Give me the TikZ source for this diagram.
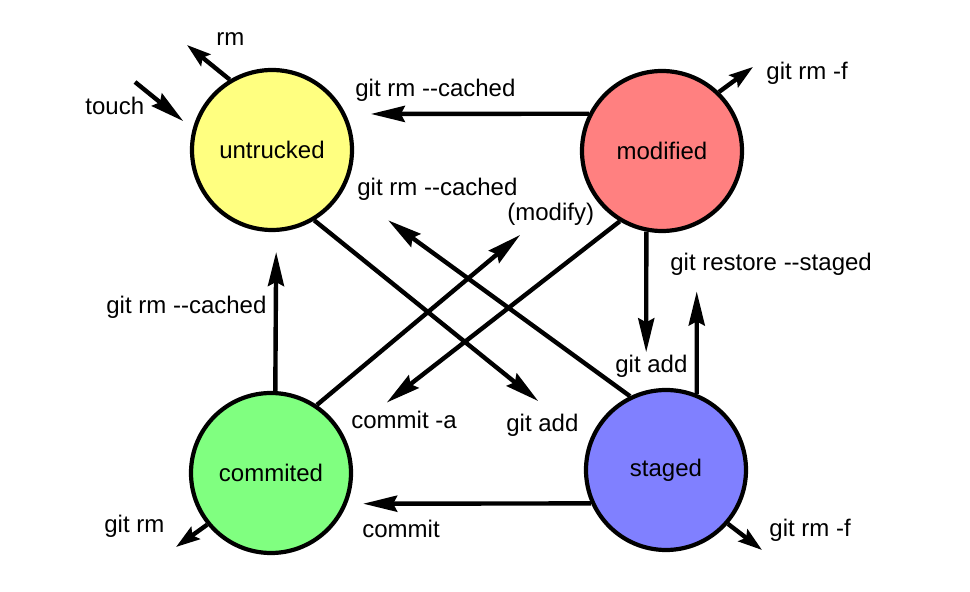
\documentclass[tikz,border=0pt]{standalone}
\usepackage{fontspec}
\setmainfont{Liberation Sans}
\usetikzlibrary{arrows.meta}

\definecolor{untruckedfill}{HTML}{FFFF80}
\definecolor{modifiedfill}{HTML}{FF8080}
\definecolor{commitedfill}{HTML}{80FF80}
\definecolor{stagedfill}{HTML}{8080FF}

\begin{document}
\begin{tikzpicture}[x=0.5pt, y=-0.5pt, font=\fontsize{12}{14}\selectfont,
    state/.style={circle, draw, line width=2.1pt, minimum size=80pt, inner sep=0pt},
    arr/.style={line width=2.2pt, -{Stealth[length=17pt, width=8pt, inset=2pt]}},
    stub/.style={line width=2.2pt, -{Stealth[length=12pt, width=7.5pt, inset=2pt]}},
    lbl/.style={anchor=base west, inner sep=0pt}]
    \useasboundingbox (0,0) rectangle (970,592);

    % the four states
    \node [state, fill=untruckedfill] (untrucked) at (272,150) {untrucked};
    \node [state, fill=modifiedfill] (modified) at (662,151) {modified};
    \node [state, fill=commitedfill] (commited) at (271,473) {commited};
    \node [state, fill=stagedfill] (staged) at (666,470) {staged};

    % transitions between states
    \draw [arr, shorten >=12.5pt] (modified.153) -- (untrucked.26);
    \draw [arr, shorten >=10pt] (commited.87) -- (untrucked.-87);
    \draw [arr, shorten >=8pt] (staged.204) -- (commited.-22);
    \draw [arr, shorten >=19pt] (modified.259) -- (staged.104);
    \draw [arr, shorten >=33pt] (staged.68) -- (modified.-65);
    \draw [arr, shorten >=32.5pt] (untrucked.-59) -- (staged.160);
    \draw [arr, shorten >=27pt] (staged.116) -- (untrucked.-28);
    \draw [arr, shorten >=42.5pt] (commited.56) -- (modified.201);
    \draw [arr, shorten >=27pt] (modified.239) -- (commited.27);

    % files coming in and going away
    \coordinate (touchStart) at (135,82);
    \coordinate (rmEnd) at (187,45);
    \coordinate (modRmEnd) at (753,67);
    \coordinate (stagedRmEnd) at (762,550);
    \coordinate (commitedRmEnd) at (176,547);
    \draw [arr, shorten >=6pt] (touchStart) -- (untrucked.165);
    \draw [stub] (untrucked.121) -- (rmEnd);
    \draw [stub] (modified.46) -- (modRmEnd);
    \draw [stub] (staged.-41) -- (stagedRmEnd);
    \draw [stub] (commited.219) -- (commitedRmEnd);

    % labels
    \node [lbl] (lblRm) at (216,46) {rm};
    \node [lbl] (lblTouch) at (85,115) {touch};
    \node [lbl] (lblCachedTop) at (355,97) {git rm -{}-cached};
    \node [lbl] (lblModRm) at (766,80) {git rm -f};
    \node [lbl] (lblCachedMid) at (357,196) {git rm -{}-cached};
    \node [lbl] (lblModify) at (507,221) {(modify)};
    \node [lbl] (lblRestore) at (670,271) {git restore -{}-staged};
    \node [lbl] (lblCachedLeft) at (106,314) {git rm -{}-cached};
    \node [lbl] (lblAddRight) at (615,373) {git add};
    \node [lbl] (lblCommitA) at (351,429) {commit -a};
    \node [lbl] (lblAddMid) at (506,432) {git add};
    \node [lbl] (lblCommit) at (362,538) {commit};
    \node [lbl] (lblCommitedRm) at (104,533) {git rm};
    \node [lbl] (lblStagedRm) at (769,537) {git rm -f};
\end{tikzpicture}
\end{document}
